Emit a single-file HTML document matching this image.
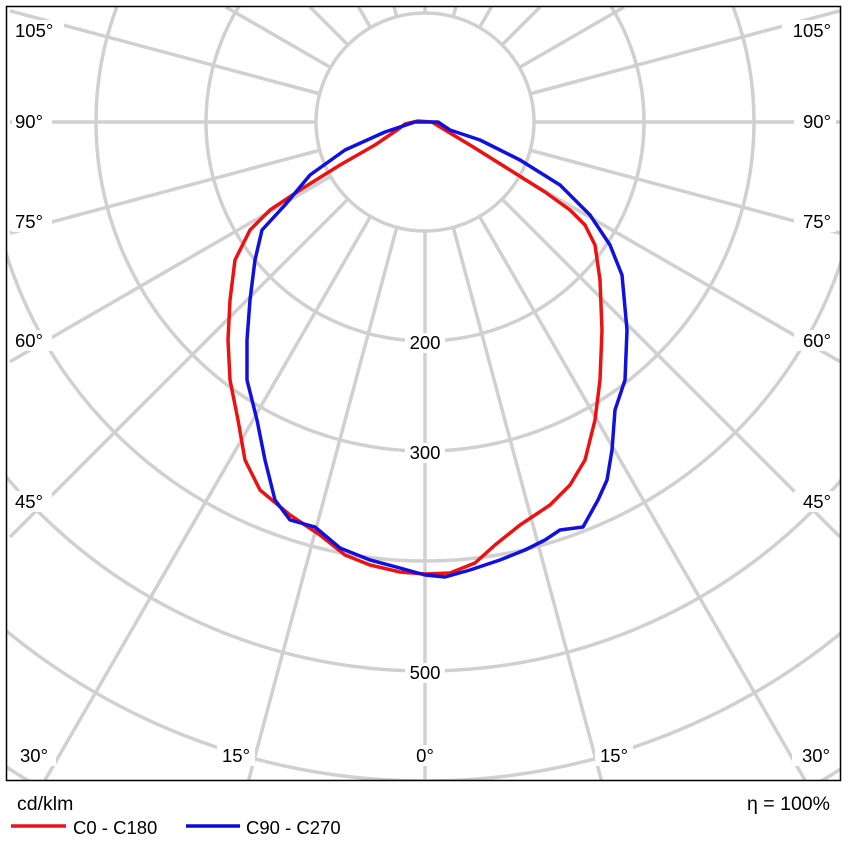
<!DOCTYPE html>
<html><head><style>html,body{margin:0;padding:0;background:#fff;width:848px;height:848px;overflow:hidden}svg{display:block}</style></head>
<body>
<svg width="848" height="848" viewBox="0 0 848 848" xmlns="http://www.w3.org/2000/svg" font-family="Liberation Sans, sans-serif">
<defs><clipPath id="c"><rect x="7" y="7" width="833" height="773"/></clipPath></defs>
<rect width="848" height="848" fill="#fff"/>
<g clip-path="url(#c)" stroke="#d0d0d0" stroke-width="3.5" fill="none">
<line x1="425" y1="232" x2="425" y2="780"/>
<line x1="453.5" y1="228.3" x2="601.3" y2="780"/>
<line x1="396.5" y1="228.3" x2="248.7" y2="780"/>
<line x1="480" y1="217.3" x2="804.9" y2="780"/>
<line x1="370" y1="217.3" x2="45.1" y2="780"/>
<line x1="502.8" y1="199.8" x2="840" y2="537"/>
<line x1="347.2" y1="199.8" x2="10" y2="537"/>
<line x1="520.3" y1="177" x2="840" y2="361.6"/>
<line x1="329.7" y1="177" x2="10" y2="361.6"/>
<line x1="531.2" y1="150.5" x2="840" y2="233.2"/>
<line x1="318.8" y1="150.5" x2="10" y2="233.2"/>
<line x1="535" y1="122" x2="840" y2="122"/>
<line x1="315" y1="122" x2="10" y2="122"/>
<line x1="531.2" y1="93.5" x2="840" y2="10.8"/>
<line x1="318.8" y1="93.5" x2="10" y2="10.8"/>
<line x1="520.3" y1="67" x2="624.2" y2="7"/>
<line x1="329.7" y1="67" x2="225.8" y2="7"/>
<line x1="502.8" y1="44.2" x2="540" y2="7"/>
<line x1="347.2" y1="44.2" x2="310" y2="7"/>
<line x1="480" y1="26.7" x2="491.4" y2="7"/>
<line x1="370" y1="26.7" x2="358.6" y2="7"/>
<line x1="453.5" y1="15.7" x2="455.8" y2="7"/>
<line x1="396.5" y1="15.7" x2="394.2" y2="7"/>
<line x1="425" y1="12" x2="425" y2="7"/>
<circle cx="425" cy="122" r="109" fill="#fff"/>
<circle cx="425" cy="122" r="219"/>
<circle cx="425" cy="122" r="329"/>
<circle cx="425" cy="122" r="439"/>
<circle cx="425" cy="122" r="549"/>
<circle cx="425" cy="122" r="659"/>
<circle cx="425" cy="122" r="769"/>
<circle cx="425" cy="122" r="879"/>
</g>
<rect x="6.5" y="6.5" width="834" height="774" fill="none" stroke="#000" stroke-width="1.5"/>
<g font-size="18.5" fill="#000">
<rect x="405" y="333" width="40" height="20" fill="#fff"/><text x="425" y="349" text-anchor="middle">200</text>
<rect x="405" y="443" width="40" height="20" fill="#fff"/><text x="425" y="459" text-anchor="middle">300</text>
<rect x="405" y="663" width="40" height="20" fill="#fff"/><text x="425" y="679" text-anchor="middle">500</text>
<g>
<rect x="12" y="20" width="52" height="21" fill="#fff"/><text x="15" y="37">105°</text>
<rect x="12" y="111" width="40" height="21" fill="#fff"/><text x="15" y="128">90°</text>
<rect x="12" y="211" width="40" height="21" fill="#fff"/><text x="15" y="228">75°</text>
<rect x="12" y="330" width="40" height="21" fill="#fff"/><text x="15" y="347">60°</text>
<rect x="12" y="491" width="40" height="21" fill="#fff"/><text x="15" y="508">45°</text>
</g>
<g text-anchor="end">
<rect x="782" y="20" width="54" height="21" fill="#fff"/><text x="831" y="37">105°</text>
<rect x="794" y="111" width="42" height="21" fill="#fff"/><text x="831" y="128">90°</text>
<rect x="794" y="211" width="42" height="21" fill="#fff"/><text x="831" y="228">75°</text>
<rect x="794" y="330" width="42" height="21" fill="#fff"/><text x="831" y="347">60°</text>
<rect x="794" y="491" width="42" height="21" fill="#fff"/><text x="831" y="508">45°</text>
</g>
<rect x="18" y="745" width="38" height="21" fill="#fff"/><text x="20" y="762">30°</text>
<rect x="217" y="745" width="38" height="21" fill="#fff"/><text x="236" y="762" text-anchor="middle">15°</text>
<rect x="410" y="745" width="30" height="21" fill="#fff"/><text x="425" y="762" text-anchor="middle">0°</text>
<rect x="595" y="745" width="38" height="21" fill="#fff"/><text x="614" y="762" text-anchor="middle">15°</text>
<rect x="792" y="745" width="38" height="21" fill="#fff"/><text x="830" y="762" text-anchor="end">30°</text>
<text x="17" y="810" font-size="19.5">cd/klm</text>
<text x="830" y="810" font-size="19.5" text-anchor="end">η = 100%</text>
<text x="73" y="834">C0 - C180</text>
<text x="246" y="834">C90 - C270</text>
</g>
<line x1="11" y1="826" x2="66" y2="826" stroke="#e8141c" stroke-width="3.5"/>
<line x1="186" y1="826" x2="240" y2="826" stroke="#0a0ad8" stroke-width="3.5"/>
<g fill="none" stroke-width="3.5" stroke-linejoin="round">
<path stroke="#ee1111" d="M405,124 L418,121 L432,122 L445,130 L470,145 L510,170 L545,192 L570,210 L585,225 L595,245 L600,280 L602,330 L600,380 L595,420 L585,460 L570,485 L550,505 L520,525 L495,545 L475,563 L450,573 L425,574 L400,572 L370,565 L345,555 L320,535 L290,515 L260,490 L245,460 L238,420 L230,380 L228,340 L230,300 L235,260 L250,230 L270,210 L300,190 L340,165 L375,145 L400,128 Z"/>
<path stroke="#1010e0" d="M415,122 L438,122 L450,130 L480,140 L520,160 L560,185 L590,215 L610,245 L622,275 L627,330 L625,380 L615,410 L612,450 L607,480 L598,500 L583,527 L560,530 L545,540 L525,550 L500,560 L470,570 L445,577 L425,575 L400,568 L370,560 L340,548 L315,527 L290,520 L275,500 L265,460 L257,420 L247,380 L247,340 L250,300 L255,260 L262,230 L285,205 L310,175 L345,150 L385,132 Z"/>
</g>
</svg>
</body></html>
